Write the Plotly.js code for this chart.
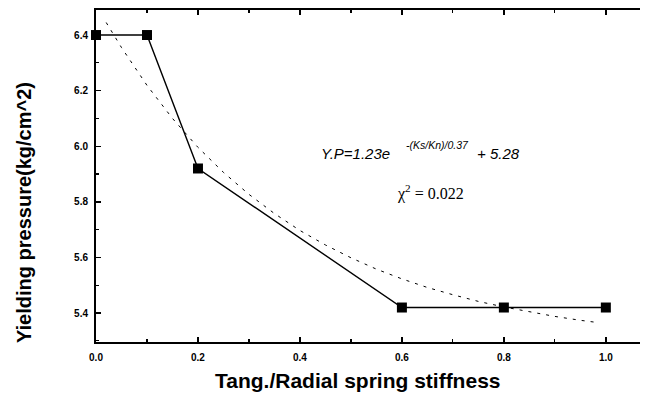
<!DOCTYPE html>
<html>
<head>
<meta charset="utf-8">
<script src="https://cdn.plot.ly/plotly-3.0.1.min.js"></script>
<style>html,body{margin:0;padding:0;background:#fff;}#chart{width:648px;height:394px;}</style>
</head>
<body>
<div id="chart"></div>
<script>
// Measured data (stiffness ratio vs yielding pressure)
var stiffness = [0.0, 0.1, 0.2, 0.6, 0.8, 1.0];
var yieldPressure = [6.40, 6.40, 5.92, 5.42, 5.42, 5.42];

// Fitted curve
var fitX = [0.02, 0.05, 0.10, 0.15, 0.20, 0.25, 0.30, 0.35, 0.40, 0.45, 0.50, 0.55, 0.60, 0.65, 0.70, 0.75, 0.80, 0.85, 0.90, 0.95, 0.98];
var fitY = [6.445, 6.355, 6.219, 6.100, 5.996, 5.906, 5.827, 5.758, 5.697, 5.645, 5.599, 5.558, 5.523, 5.492, 5.466, 5.442, 5.422, 5.404, 5.388, 5.374, 5.367];

var xTicks = [0.0, 0.2, 0.4, 0.6, 0.8, 1.0];
var xTickLabels = ['0.0', '0.2', '0.4', '0.6', '0.8', '1.0'];
var yTicks = [5.4, 5.6, 5.8, 6.0, 6.2, 6.4];
var yTickLabels = ['5.4', '5.6', '5.8', '6.0', '6.2', '6.4'];

var titleX = 'Tang./Radial spring stiffness';
var titleY = 'Yielding pressure(kg/cm^2)';

var traces = [
  {
    x: fitX, y: fitY, mode: 'lines', type: 'scatter',
    line: {color: '#000', width: 1, dash: '3px,6px'},
    hoverinfo: 'skip', showlegend: false
  },
  {
    x: stiffness, y: yieldPressure, mode: 'lines+markers', type: 'scatter',
    line: {color: '#000', width: 1.4},
    marker: {symbol: 'square', size: 10, color: '#000'},
    cliponaxis: false, showlegend: false
  }
];

var sans = 'Liberation Sans, Arial, sans-serif';
var tickFont = {family: sans, size: 10, color: '#000', weight: 'bold'};

var layout = {
  width: 648, height: 394,
  margin: {l: 96, r: 8, t: 10, b: 52},
  paper_bgcolor: '#fff', plot_bgcolor: '#fff',
  showlegend: false,
  xaxis: {
    range: [0, 1.067], showgrid: false, zeroline: false,
    showline: true, linecolor: '#000', linewidth: 2, mirror: 'ticks',
    ticks: 'inside', ticklen: 5, tickwidth: 1.5, tickcolor: '#000',
    tickvals: xTicks, ticktext: xTickLabels, tickfont: tickFont,
    ticklabelstandoff: 5,
    minor: {dtick: 0.1, tick0: 0, ticks: 'inside', ticklen: 3, tickwidth: 1.2, tickcolor: '#000'}
  },
  yaxis: {
    range: [5.296, 6.49], showgrid: false, zeroline: false,
    showline: true, linecolor: '#000', linewidth: 2,
    ticks: 'inside', ticklen: 5, tickwidth: 1.5, tickcolor: '#000',
    tickvals: yTicks, ticktext: yTickLabels, tickfont: tickFont,
    ticklabelstandoff: 4,
    minor: {dtick: 0.1, tick0: 5.3, ticks: 'inside', ticklen: 3, tickwidth: 1.2, tickcolor: '#000'}
  },
  annotations: [
    {xref: 'paper', yref: 'paper', x: 0.482, y: -0.117, xanchor: 'center', yanchor: 'middle', showarrow: false,
     text: titleX, font: {family: sans, size: 21, color: '#000', weight: 'bold'}},
    {xref: 'paper', yref: 'paper', x: -0.132, y: 0.389, xanchor: 'center', yanchor: 'middle', showarrow: false,
     textangle: -90, text: titleY, font: {family: sans, size: 20, color: '#000', weight: 'bold'}},
    {xref: 'x', yref: 'y', x: 0.437, y: 5.975, xanchor: 'left', yanchor: 'middle', showarrow: false,
     text: '<i>Y.P=1.23e</i>', font: {family: sans, size: 15, color: '#000'}},
    {xref: 'x', yref: 'y', x: 0.604, y: 6.003, xanchor: 'left', yanchor: 'middle', showarrow: false,
     text: '<i>-(Ks/Kn)/0.37</i>', font: {family: sans, size: 10.5, color: '#000'}},
    {xref: 'x', yref: 'y', x: 0.743, y: 5.975, xanchor: 'left', yanchor: 'middle', showarrow: false,
     text: '<i>+ 5.28</i>', font: {family: sans, size: 15, color: '#000'}},
    {xref: 'x', yref: 'y', x: 0.657, y: 5.832, xanchor: 'center', yanchor: 'middle', showarrow: false,
     text: '\u03C7<sup>2</sup> = 0.022', font: {family: 'Liberation Serif, Times New Roman, serif', size: 16, color: '#000'}}
  ]
};

Plotly.newPlot('chart', traces, layout, {staticPlot: true, displayModeBar: false});
</script>
</body>
</html>
